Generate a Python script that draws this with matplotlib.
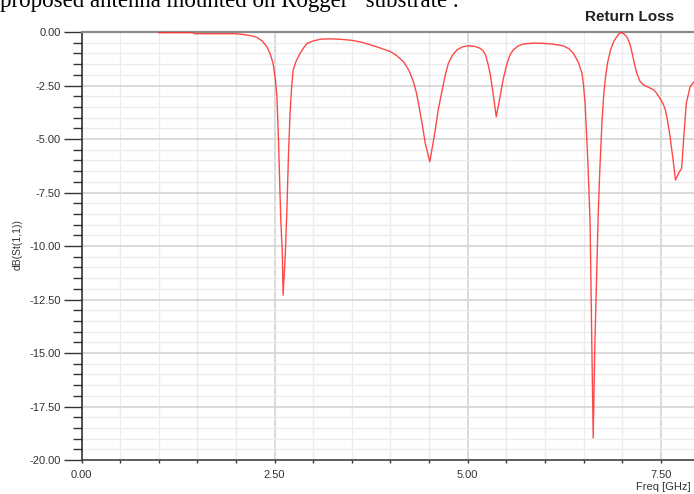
import matplotlib
matplotlib.use("Agg")
import matplotlib.pyplot as plt
from matplotlib.ticker import MultipleLocator, FormatStrFormatter

# S11 sweep (GHz, dB)
freq = [1.00, 1.45, 1.46, 1.99, 2.10, 2.20, 2.27, 2.34, 2.40, 2.44, 2.48, 2.51,
        2.53, 2.55, 2.56, 2.58, 2.60, 2.61, 2.64, 2.66, 2.68, 2.70, 2.72, 2.74,
        2.78, 2.83, 2.88, 2.92, 3.00, 3.09, 3.20, 3.31, 3.42, 3.52, 3.63, 3.74,
        3.87, 4.00, 4.08, 4.17, 4.24, 4.30, 4.34, 4.38, 4.42, 4.45, 4.51, 4.58,
        4.62, 4.67, 4.71, 4.75, 4.80, 4.86, 4.93, 5.01, 5.09, 5.16, 5.20, 5.23,
        5.26, 5.29, 5.33, 5.37, 5.42, 5.46, 5.51, 5.55, 5.59, 5.65, 5.72, 5.85,
        5.98, 6.11, 6.24, 6.31, 6.37, 6.43, 6.48, 6.50, 6.52, 6.555, 6.575,
        6.585, 6.595, 6.605, 6.615, 6.625, 6.635, 6.645, 6.66, 6.675, 6.69,
        6.71, 6.74, 6.76, 6.78, 6.81, 6.85, 6.89, 6.93, 6.96, 6.99, 7.02, 7.06,
        7.10, 7.13, 7.16, 7.19, 7.23, 7.28, 7.35, 7.41, 7.45, 7.49, 7.53, 7.56,
        7.59, 7.62, 7.66, 7.69, 7.73, 7.77, 7.80, 7.83, 7.88, 7.93]
s11_db = [-0.03, -0.03, -0.08, -0.08, -0.12, -0.18, -0.25, -0.42, -0.69, -1.00,
          -1.46, -2.20, -3.00, -5.00, -6.30, -8.80, -10.30, -12.30, -10.30,
          -8.20, -5.70, -3.80, -2.60, -1.78, -1.35, -1.00, -0.72, -0.53, -0.42,
          -0.34, -0.32, -0.33, -0.36, -0.40, -0.48, -0.60, -0.75, -0.92, -1.10,
          -1.39, -1.80, -2.35, -2.90, -3.67, -4.50, -5.20, -6.06, -4.58, -3.60,
          -2.71, -2.00, -1.46, -1.10, -0.84, -0.70, -0.64, -0.67, -0.76, -0.88,
          -1.07, -1.45, -1.93, -2.90, -3.96, -3.00, -2.20, -1.46, -1.05, -0.84,
          -0.66, -0.56, -0.52, -0.53, -0.57, -0.65, -0.78, -1.00, -1.40, -1.93,
          -2.50, -3.33, -6.00, -7.90, -9.00, -11.50, -14.10, -16.50, -18.97,
          -16.90, -14.80, -12.70, -10.60, -8.50, -6.50, -4.10, -3.00, -2.24,
          -1.45, -0.84, -0.45, -0.22, -0.08, -0.03, -0.08, -0.22, -0.55, -1.00,
          -1.50, -1.93, -2.30, -2.48, -2.60, -2.71, -2.88, -3.10, -3.35, -3.64,
          -4.20, -4.89, -6.00, -6.92, -6.60, -6.37, -4.80, -3.33, -2.56, -2.32]

W, H = 694, 494
fig = plt.figure(figsize=(W / 100, H / 100), dpi=100)
ax = fig.add_axes([81.5 / W, 1 - 460 / H, 1 - 81.5 / W, 428 / H])

ax.plot(freq, s11_db, color="#ff2a2a", lw=1.0, alpha=0.85, zorder=4,
        clip_on=False)

ax.set_xlim(0, 7.93)
ax.set_ylim(-20, 0)
ax.xaxis.set_major_locator(MultipleLocator(2.5))
ax.xaxis.set_minor_locator(MultipleLocator(0.5))
ax.yaxis.set_major_locator(MultipleLocator(2.5))
ax.yaxis.set_minor_locator(MultipleLocator(0.5))
ax.xaxis.set_major_formatter(FormatStrFormatter("%.2f"))
ax.yaxis.set_major_formatter(FormatStrFormatter("%.2f"))

ax.grid(which="major", color="#d4d4d4", lw=1.2)
ax.grid(which="minor", color="#ececec", lw=1.0)
ax.set_axisbelow(True)

ax.spines["right"].set_visible(False)
ax.spines["top"].set_color("#8a8a8a")
ax.spines["top"].set_linewidth(1.6)
ax.spines["left"].set_color("#333333")
ax.spines["left"].set_linewidth(1.2)
ax.spines["bottom"].set_color("#444444")
ax.spines["bottom"].set_linewidth(1.2)

ax.tick_params(axis="y", which="major", length=13, width=1, color="#333333",
               labelsize=8, labelcolor="#333333", pad=2)
ax.tick_params(axis="y", which="minor", length=6.5, width=1, color="#333333")
ax.tick_params(axis="x", which="major", length=2, width=1, color="#333333",
               labelsize=8, labelcolor="#333333", pad=5)
ax.tick_params(axis="x", which="minor", length=2, width=1, color="#333333")
for t in ax.get_xticklabels() + ax.get_yticklabels():
    t.set_family("Liberation Sans")

fig.text(18 / W, 1 - 244 / H, "dB(St(1,1))", rotation=90, ha="center",
         va="center", family="Liberation Sans", size=7.5, color="#333333")
fig.text(663 / W, 1 - 487 / H, "Freq [GHz]", ha="center", va="center",
         family="Liberation Sans", size=8, color="#333333")
fig.text(630 / W, 1 - 17 / H, "Return Loss", ha="center", va="center",
         family="Liberation Sans", size=11, weight="bold", color="#222222")
fig.text(0, 1 - 7.5 / H, "proposed antenna mounted on Rogger   substrate .",
         ha="left", va="baseline", family="Liberation Serif", size=16.5,
         color="black")

fig.savefig("out.png", dpi=100)
